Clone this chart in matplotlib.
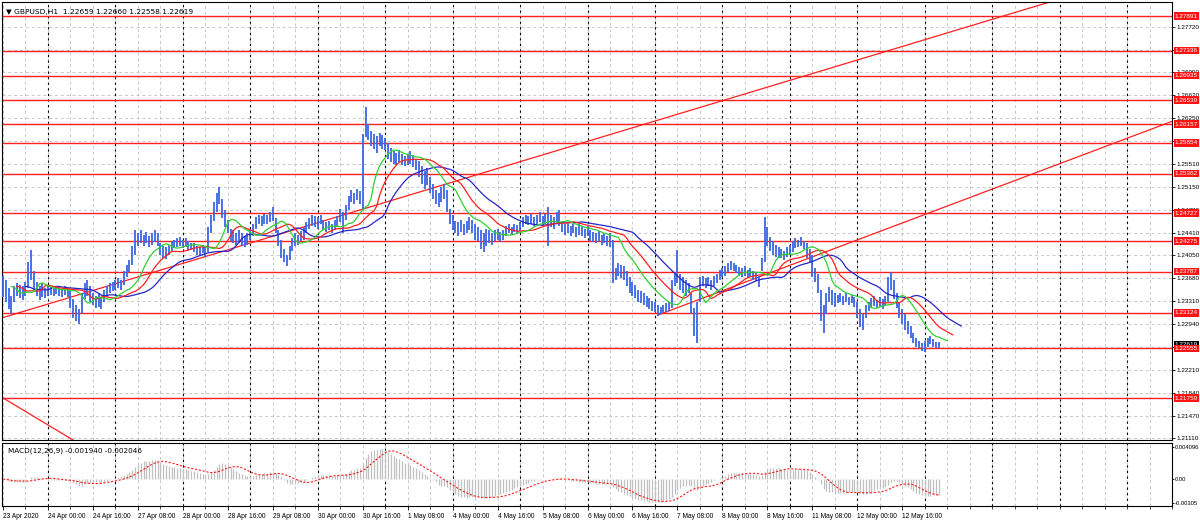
"""
GBPUSD H1 图表复刻：价格条 + Alligator + 水平/趋势线 + MACD 子窗口
"""
import numpy as np
import pandas as pd
import matplotlib
matplotlib.use('Agg')
import matplotlib.pyplot as plt
import matplotlib.transforms as mtransforms

# ---- 数据（单位：点, 1 pip = 0.0001），每根 H1 K 线的最高/最低价 ----
high_pips = [
    12372, 12365, 12352, 12340, 12355, 12360, 12358, 12356, 12362, 12395, 12414, 12380,
    12362, 12356, 12360, 12352, 12357, 12354, 12352, 12356, 12353, 12350, 12355, 12352,
    12348, 12335, 12325, 12318, 12345, 12360, 12365, 12355, 12345, 12340, 12345, 12338,
    12350, 12356, 12360, 12362, 12365, 12368, 12366, 12380, 12390, 12398, 12420, 12445,
    12440, 12446, 12438, 12442, 12436, 12440, 12446, 12440, 12425, 12420, 12418, 12422,
    12428, 12430, 12432, 12434, 12430, 12433, 12428, 12425, 12424, 12420, 12418, 12422,
    12420, 12450, 12470, 12490, 12505, 12515, 12495, 12478, 12462, 12448, 12445, 12440,
    12445, 12440, 12436, 12440, 12448, 12455, 12466, 12470, 12468, 12472, 12470, 12475,
    12483, 12465, 12445, 12430, 12415, 12405, 12420, 12432, 12440, 12438, 12444, 12450,
    12458, 12465, 12470, 12468, 12466, 12470, 12462, 12458, 12460, 12455, 12462, 12468,
    12480, 12475, 12485, 12500, 12510, 12505, 12512, 12508, 12600, 12643, 12615, 12605,
    12600, 12596, 12602, 12598, 12594, 12585, 12578, 12572, 12570, 12574, 12568, 12565,
    12568, 12572, 12566, 12560, 12556, 12548, 12540, 12545, 12530, 12520, 12510, 12505,
    12515, 12520, 12510, 12480, 12470, 12460, 12458, 12462, 12455, 12460, 12466, 12462,
    12455, 12450, 12446, 12440, 12448, 12445, 12440, 12445, 12448, 12442, 12446, 12452,
    12455, 12450, 12456, 12454, 12458, 12466, 12470, 12468, 12472, 12466, 12470, 12474,
    12468, 12472, 12483, 12470, 12466, 12475, 12478, 12460, 12455, 12458, 12452, 12456,
    12450, 12455, 12452, 12448, 12452, 12446, 12442, 12440, 12444, 12438, 12440, 12436,
    12440, 12430, 12385, 12392, 12390, 12388, 12380, 12370, 12362, 12358, 12350, 12348,
    12345, 12340, 12336, 12332, 12330, 12325, 12322, 12325, 12328, 12330, 12365, 12375,
    12414, 12375, 12370, 12365, 12360, 12345, 12320, 12330, 12370, 12372, 12368, 12370,
    12366, 12372, 12375, 12382, 12385, 12388, 12392, 12396, 12392, 12390, 12386, 12384,
    12388, 12382, 12385, 12380, 12378, 12372, 12400, 12466, 12450, 12435, 12428, 12422,
    12418, 12415, 12412, 12418, 12422, 12428, 12432, 12430, 12434, 12428, 12425, 12415,
    12405, 12385, 12375, 12350, 12325, 12345, 12354, 12350, 12345, 12342, 12345, 12340,
    12344, 12338, 12342, 12338, 12330, 12318, 12310, 12325, 12330, 12336, 12340, 12334,
    12338, 12335, 12340, 12370, 12378, 12365, 12345, 12330, 12318, 12310, 12300, 12292,
    12280, 12272, 12268, 12265, 12268, 12272, 12275, 12270, 12266, 12266,
]
low_pips = [
    12338, 12330, 12318, 12310, 12330, 12340, 12336, 12333, 12340, 12352, 12365, 12350,
    12340, 12334, 12338, 12336, 12340, 12342, 12340, 12343, 12340, 12338, 12342, 12338,
    12320, 12305, 12300, 12294, 12310, 12335, 12340, 12330, 12325, 12320, 12322, 12318,
    12330, 12338, 12345, 12348, 12350, 12352, 12350, 12358, 12370, 12378, 12390, 12405,
    12420, 12425, 12420, 12424, 12418, 12422, 12426, 12420, 12405, 12400, 12399, 12405,
    12412, 12416, 12418, 12420, 12416, 12418, 12412, 12414, 12410, 12406, 12404, 12408,
    12402, 12410, 12440, 12460, 12475, 12488, 12465, 12450, 12440, 12428, 12425, 12422,
    12424, 12420, 12418, 12422, 12430, 12436, 12448, 12455, 12452, 12456, 12455, 12458,
    12460, 12440, 12420, 12400, 12395, 12388, 12398, 12412, 12420, 12422, 12428, 12430,
    12440, 12448, 12452, 12450, 12448, 12455, 12446, 12442, 12445, 12440, 12446, 12450,
    12458, 12440, 12462, 12478, 12490, 12488, 12494, 12488, 12478, 12595, 12590, 12580,
    12575, 12570, 12580, 12576, 12574, 12560, 12555, 12552, 12550, 12554, 12550, 12548,
    12550, 12552, 12546, 12542, 12530, 12520, 12512, 12518, 12505, 12495, 12488, 12482,
    12490, 12495, 12475, 12455, 12445, 12440, 12436, 12442, 12438, 12440, 12445, 12440,
    12430, 12428, 12415, 12410, 12420, 12425, 12422, 12428, 12430, 12426, 12430, 12436,
    12440, 12438, 12442, 12440, 12444, 12450, 12455, 12453, 12456, 12452, 12455, 12458,
    12452, 12456, 12420, 12450, 12448, 12455, 12452, 12442, 12438, 12440, 12436, 12440,
    12435, 12438, 12436, 12432, 12436, 12428, 12426, 12424, 12428, 12422, 12425, 12420,
    12418, 12360, 12365, 12372, 12368, 12365, 12355, 12345, 12340, 12336, 12330, 12328,
    12325, 12322, 12318, 12316, 12314, 12308, 12310, 12312, 12314, 12316, 12320, 12355,
    12360, 12350, 12345, 12340, 12345, 12310, 12275, 12264, 12330, 12355, 12352, 12356,
    12350, 12356, 12360, 12366, 12370, 12372, 12378, 12382, 12380, 12376, 12372, 12370,
    12372, 12368, 12370, 12366, 12364, 12354, 12380, 12395, 12420, 12412, 12405, 12402,
    12400, 12400, 12398, 12402, 12405, 12410, 12416, 12418, 12420, 12415, 12400, 12395,
    12370, 12362, 12345, 12300, 12280, 12310, 12330, 12325, 12322, 12328, 12330, 12326,
    12330, 12325, 12328, 12322, 12305, 12290, 12285, 12305, 12315, 12320, 12324, 12320,
    12322, 12318, 12325, 12330, 12350, 12335, 12320, 12305, 12295, 12285, 12278, 12272,
    12265, 12258, 12256, 12252, 12250, 12258, 12262, 12258, 12256, 12256,
]

# 水平支撑/阻力线价格
level_prices = [1.27891, 1.27336, 1.26935, 1.26539, 1.26157, 1.25854, 1.25362,
                1.24727, 1.24275, 1.23787, 1.23124, 1.22555, 1.21759]
# 右侧价格刻度
price_ticks = [1.21110, 1.21470, 1.21840, 1.22210, 1.22580, 1.22940, 1.23310,
               1.23680, 1.24050, 1.24410, 1.24780, 1.25150, 1.25510, 1.25880,
               1.26250, 1.26620, 1.26990, 1.27350, 1.27720]
# 趋势线锚点 (K 线序号, 价格)
trend_a = [(0, 1.23050), (300, 1.27130)]
trend_b = [(233, 1.23090), (416, 1.26200)]
trend_c = [(0, 1.21760), (24, 1.21110)]
# 时间轴标签（每 16 根 K 线）
time_labels = ['23 Apr 2020', '24 Apr 00:00', '24 Apr 16:00', '27 Apr 08:00',
               '28 Apr 00:00', '28 Apr 16:00', '29 Apr 08:00', '30 Apr 00:00',
               '30 Apr 16:00', '1 May 08:00', '4 May 00:00', '4 May 16:00',
               '5 May 08:00', '6 May 00:00', '6 May 16:00', '7 May 08:00',
               '8 May 00:00', '8 May 16:00', '11 May 08:00', '12 May 00:00',
               '12 May 16:00']
header_text = 'GBPUSD,H1  1.22659 1.22660 1.22558 1.22619'
bid_price = 1.22619
macd_text = 'MACD(12,26,9) -0.001940 -0.002046'
macd_ticks = [0.004096, 0.0, -0.00305]
macd_tick_labels = ['0.004096', '0.00', '-0.00305']

W, H = 1200, 527
FONT = 'DejaVu Sans'
AXFONT = 'Liberation Sans'
BAR_BLUE = '#3d66e0'


def smma(values, period):
    """Alligator 用的平滑移动平均"""
    return pd.Series(values).ewm(alpha=1.0 / period, adjust=False).mean().to_numpy()


high = np.array(high_pips) / 10000.0
low = np.array(low_pips) / 10000.0
n = len(high)
bars = np.arange(n)
median = (high + low) / 2

# Alligator: 颚(13,8) 齿(8,5) 唇(5,3)
jaw = smma(median, 13)
teeth = smma(median, 8)
lips = smma(median, 5)

# MACD(12,26,9)
s = pd.Series(median)
macd_main = (s.ewm(span=12, adjust=False).mean() - s.ewm(span=26, adjust=False).mean()).to_numpy()
macd_signal = pd.Series(macd_main).rolling(9, min_periods=1).mean().to_numpy()

fig = plt.figure(figsize=(W / 100, H / 100), dpi=100)
fig.patch.set_facecolor('white')

x_lo, x_hi = -0.36, 416.0
ax = fig.add_axes([2 / W, 1 - 440 / H, 1170 / W, 438 / H])
axm = fig.add_axes([2 / W, 1 - 506 / H, 1170 / W, 63 / H])

for a in (ax, axm):
    a.set_xlim(x_lo, x_hi)
    for sp in a.spines.values():
        sp.set_linewidth(0.8)
        sp.set_color('black')
    # 网格：每 8 根浅灰虚线，每天开始黑色分隔线
    for b in range(0, int(x_hi) + 1, 8):
        a.axvline(b, color='#c8c8c8', lw=0.7, dashes=(3, 3), zorder=0)
    for b in range(16, int(x_hi) + 1, 24):
        a.axvline(b, color='black', lw=0.8, dashes=(2, 3), zorder=0.5)

ax.set_ylim(1.21085, 1.28116)
for p in price_ticks:
    ax.axhline(p, color='#c8c8c8', lw=0.7, dashes=(3, 3), zorder=0)

# 价格条
ax.vlines(bars, low, high, color=BAR_BLUE, lw=1.3, zorder=3)

# Alligator 线（向前平移）
ax.plot(bars + 8, jaw, color='#2626c8', lw=0.9, zorder=4)
ax.plot(bars + 5, teeth, color='#ff2020', lw=0.9, zorder=4)
ax.plot(bars + 3, lips, color='#30d030', lw=0.9, zorder=4)

# 水平线
for p in level_prices:
    ax.axhline(p, color='#ff2020', lw=1.0, zorder=2)

# 趋势线
ax.axline(trend_a[0], trend_a[1], color='#ff2020', lw=0.9, zorder=2)
ax.axline(trend_c[0], trend_c[1], color='#ff2020', lw=0.9, zorder=2)
ax.plot([p[0] for p in trend_b], [p[1] for p in trend_b], color='#ff2020', lw=0.9, zorder=2)

# 右侧价格刻度
ax.yaxis.tick_right()
ax.set_yticks(price_ticks)
ax.set_yticklabels([f'{p:.5f}' for p in price_ticks], fontsize=4.6, family=AXFONT)
ax.tick_params(axis='y', length=2, width=0.6, pad=1.5)
ax.set_xticks([])

trans = mtransforms.blended_transform_factory(ax.transAxes, ax.transData)
ax.text(1.0025, bid_price, f'{bid_price:.5f}', transform=trans, fontsize=4.6, family=AXFONT,
        color='white', ha='left', va='center', clip_on=False, zorder=6,
        bbox=dict(boxstyle='square,pad=0.2', fc='black', ec='none'))
for p in level_prices:
    ax.text(1.0025, p, f'{p:.5f}', transform=trans, fontsize=4.6, family=AXFONT,
            color='white', ha='left', va='center', clip_on=False, zorder=7,
            bbox=dict(boxstyle='square,pad=0.2', fc='#ff1414', ec='none'))

ax.text(0.003, 0.985, '\u25bc ' + header_text, transform=ax.transAxes, fontsize=5.4,
        family=FONT, ha='left', va='top', zorder=8)

# MACD 子窗口
axm.set_ylim(-0.00343, 0.0046)
axm.vlines(bars, 0, macd_main, color='#c0c0c0', lw=0.9, zorder=2)
axm.plot(bars, macd_signal, color='#ff2020', lw=0.8, dashes=(2, 1.5), zorder=3)
axm.yaxis.tick_right()
axm.set_yticks(macd_ticks)
axm.set_yticklabels(macd_tick_labels, fontsize=4.2, family=AXFONT)
axm.tick_params(axis='y', length=1.5, width=0.6, pad=0.8)
axm.text(0.005, 0.93, macd_text, transform=axm.transAxes, fontsize=5.2, family=FONT,
         ha='left', va='top', zorder=8)

axm.set_xticks(range(0, 16 * len(time_labels), 16))
axm.set_xticklabels(time_labels, fontsize=4.8, family=AXFONT)
for lbl in axm.get_xticklabels():
    lbl.set_ha('left')
axm.set_xticks(range(0, int(x_hi) + 1, 8), minor=True)
axm.tick_params(axis='x', length=3, width=0.6, pad=2)
axm.tick_params(axis='x', which='minor', length=2, width=0.5)

fig.savefig('out.png', dpi=100, facecolor='white')
plt.close(fig)
